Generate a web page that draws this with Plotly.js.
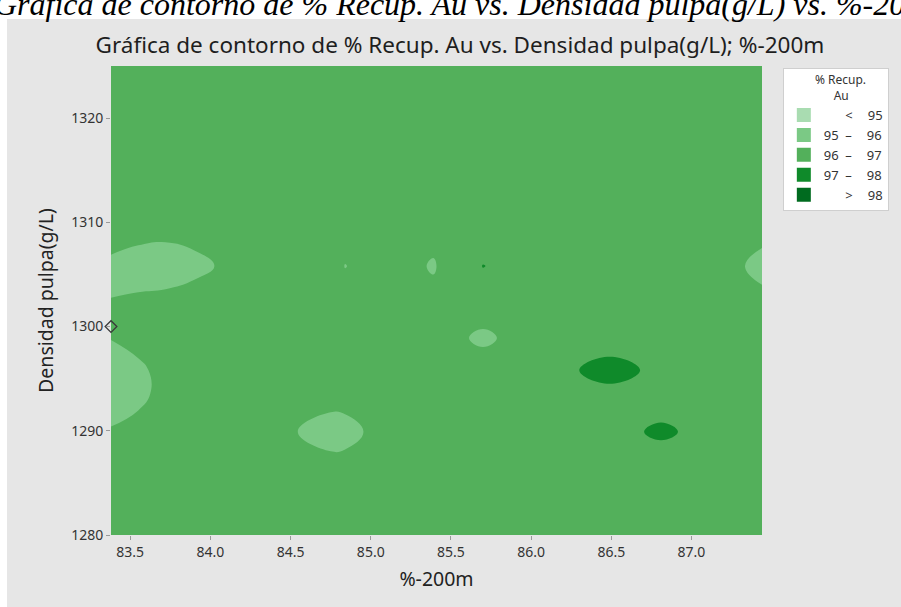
<!DOCTYPE html>
<html lang="es">
<head>
<meta charset="utf-8">
<script src="https://cdn.plot.ly/plotly-3.0.1.min.js"></script>
<style>
  html, body { margin: 0; padding: 0; background: #ffffff; }
  #chart { width: 901px; height: 607px; }
</style>
</head>
<body>
<div id="chart"></div>
<script>
// Grid of the fitted response: %-200m (x), pulp density g/L (y), gold recovery % (z)
const pctPassing200 = [83.38, 83.55, 83.72, 83.90, 84.15, 84.45, 84.75, 84.84, 85.05, 85.39, 85.70, 86.10, 86.49, 86.81, 87.10, 87.30, 87.44];
const pulpDensity = [1280, 1286.5, 1289.9, 1293.6, 1295.8, 1298.9, 1302.0, 1305.8, 1309.5, 1315, 1325];
const goldRecovery = [
  [96.5, 96.5, 96.5, 96.5, 96.5, 96.5, 96.5, 96.5, 96.5, 96.5, 96.5, 96.5, 96.5, 96.5, 96.5, 96.5, 96.5],
  [96.5, 96.5, 96.5, 96.5, 96.5, 96.5, 96.65, 96.61, 96.5, 96.5, 96.5, 96.5, 96.5, 96.05, 96.5, 96.5, 96.5],
  [96.11, 96.5, 96.5, 96.5, 96.5, 96.37, 95.2, 95.4, 96.5, 96.5, 96.5, 96.5, 96.39, 97.3, 96.48, 96.5, 96.5],
  [95.3, 95.6, 96.5, 96.5, 96.5, 96.5, 96.78, 96.72, 96.5, 96.5, 96.5, 96.5, 96.51, 96.05, 96.5, 96.5, 96.5],
  [95.4, 95.7, 96.5, 96.5, 96.5, 96.5, 96.5, 96.5, 96.5, 96.5, 96.51, 96.26, 97.7, 96.52, 96.5, 96.5, 96.5],
  [96.04, 96.5, 96.5, 96.5, 96.5, 96.5, 96.5, 96.5, 96.5, 96.51, 95.8, 96.72, 96.03, 96.5, 96.5, 96.5, 96.5],
  [96.1, 96.31, 96.5, 96.95, 96.5, 96.5, 96.5, 96.5, 96.5, 96.26, 96.51, 96.5, 96.5, 96.5, 96.5, 96.5, 96.56],
  [95.6, 95.4, 95.3, 95.5, 96.5, 96.5, 96.5, 95.97, 96.5, 95.93, 97.02, 96.5, 96.5, 96.5, 96.5, 96.16, 95.5],
  [96.95, 96.51, 96.43, 96.73, 96.5, 96.5, 96.5, 96.5, 96.5, 96.26, 96.5, 96.5, 96.5, 96.5, 96.5, 96.5, 96.56],
  [96.5, 96.5, 96.5, 96.5, 96.5, 96.5, 96.5, 96.5, 96.5, 96.5, 96.5, 96.5, 96.5, 96.5, 96.5, 96.5, 96.5],
  [96.5, 96.5, 96.5, 96.5, 96.5, 96.5, 96.5, 96.5, 96.5, 96.5, 96.5, 96.5, 96.5, 96.5, 96.5, 96.5, 96.5]
];

// Contour levels and their legend bands
const levels = [95, 96, 97, 98];
const bandLabels = [
  '\u2007\u2007\u2002<\u2003\u200995',
  '95\u2002\u2013\u2003\u200996',
  '96\u2002\u2013\u2003\u200997',
  '97\u2002\u2013\u2003\u200998',
  '\u2007\u2007\u2002>\u2003\u200998'
];
const bandColors = ['#a9dcb1', '#7bc985', '#53b05b', '#0f8a2a', '#006b1f'];

// Point marked on the density axis
const markedX = [83.38];
const markedY = [1300];

const xTicks = [83.5, 84.0, 84.5, 85.0, 85.5, 86.0, 86.5, 87.0];
const yTicks = [1280, 1290, 1300, 1310, 1320];

const FONT = 'Noto Sans, Open Sans, sans-serif';

const colorscale = bandColors.map((c, i) => [i / (bandColors.length - 1), c]);

const traces = [{
  type: 'contour',
  x: pctPassing200,
  y: pulpDensity,
  z: goldRecovery,
  colorscale: colorscale,
  autocontour: false,
  contours: {
    start: levels[0],
    end: levels[levels.length - 1],
    size: levels[1] - levels[0],
    coloring: 'fill',
    showlines: false
  },
  line: { width: 0, smoothing: 1.3 },
  showscale: false,
  showlegend: false,
  hoverinfo: 'skip'
}];

bandLabels.forEach((label, i) => {
  traces.push({
    type: 'scatter',
    mode: 'markers',
    x: [null],
    y: [null],
    name: label,
    marker: { symbol: 'square', size: 14, color: bandColors[i] },
    showlegend: true,
    hoverinfo: 'skip'
  });
});

traces.push({
  type: 'scatter',
  mode: 'markers',
  x: markedX,
  y: markedY,
  marker: { symbol: 'diamond-open', size: 9, color: '#3a3a3a', line: { width: 1.3 } },
  cliponaxis: false,
  showlegend: false,
  hoverinfo: 'skip'
});

const layout = {
  width: 901,
  height: 607,
  margin: { l: 111, r: 139, t: 66, b: 72, pad: 0 },
  paper_bgcolor: '#ffffff',
  plot_bgcolor: 'rgba(0,0,0,0)',
  font: { family: FONT, color: '#333333', size: 14 },
  title: {
    text: 'Gráfica de contorno de % Recup. Au vs. Densidad pulpa(g/L); %-200m',
    font: { family: FONT, size: 22.5, color: '#1e1e1e' },
    xref: 'container', x: 0.5105, xanchor: 'center',
    yref: 'container', y: 0.926, yanchor: 'middle'
  },
  xaxis: {
    range: [83.38, 87.44],
    tickvals: xTicks,
    ticktext: xTicks.map(v => v.toFixed(1)),
    ticks: 'outside', ticklen: 4, tickcolor: '#9a9a9a',
    tickfont: { size: 14, color: '#333333' },
    showgrid: false, zeroline: false, showline: false,
    title: { text: '%-200m', font: { size: 19.5, color: '#222222' }, standoff: 12 }
  },
  yaxis: {
    range: [1280, 1325],
    tickvals: yTicks,
    ticks: 'outside', ticklen: 4, tickcolor: '#9a9a9a',
    tickfont: { size: 14, color: '#333333' },
    showgrid: false, zeroline: false, showline: false,
    title: { text: 'Densidad pulpa(g/L)', font: { size: 19.5, color: '#222222' }, standoff: 12 }
  },
  legend: {
    x: 1.032, xanchor: 'left',
    y: 0.996, yanchor: 'top',
    bgcolor: '#ffffff',
    bordercolor: '#cfcfcf',
    borderwidth: 1,
    font: { size: 13, color: '#333333' },
    title: {
      text: '\u00a0\u00a0\u00a0% Recup.<br>\u00a0\u00a0\u00a0\u00a0\u00a0\u00a0\u00a0\u00a0\u00a0Au',
      side: 'top center',
      font: { size: 12, color: '#333333' }
    },
    itemsizing: 'trace',
    traceorder: 'normal'
  },
  shapes: [{
    type: 'rect', xref: 'paper', yref: 'paper',
    x0: -0.1598, x1: 1.2135, y0: -0.1535, y1: 1.1002,
    fillcolor: '#e6e6e6', line: { width: 0 }, layer: 'below'
  }],
  annotations: [{
    text: 'Gráfica de contorno de % Recup. Au vs. Densidad pulpa(g/L) vs. %-200m',
    xref: 'paper', yref: 'paper',
    x: 0.55, xanchor: 'center',
    y: 1.0896, yanchor: 'bottom',
    showarrow: false,
    font: { family: 'Liberation Serif, serif', size: 32, style: 'italic', color: '#000000' }
  }]
};

Plotly.newPlot('chart', traces, layout, { displayModeBar: false, staticPlot: true });
</script>
</body>
</html>
